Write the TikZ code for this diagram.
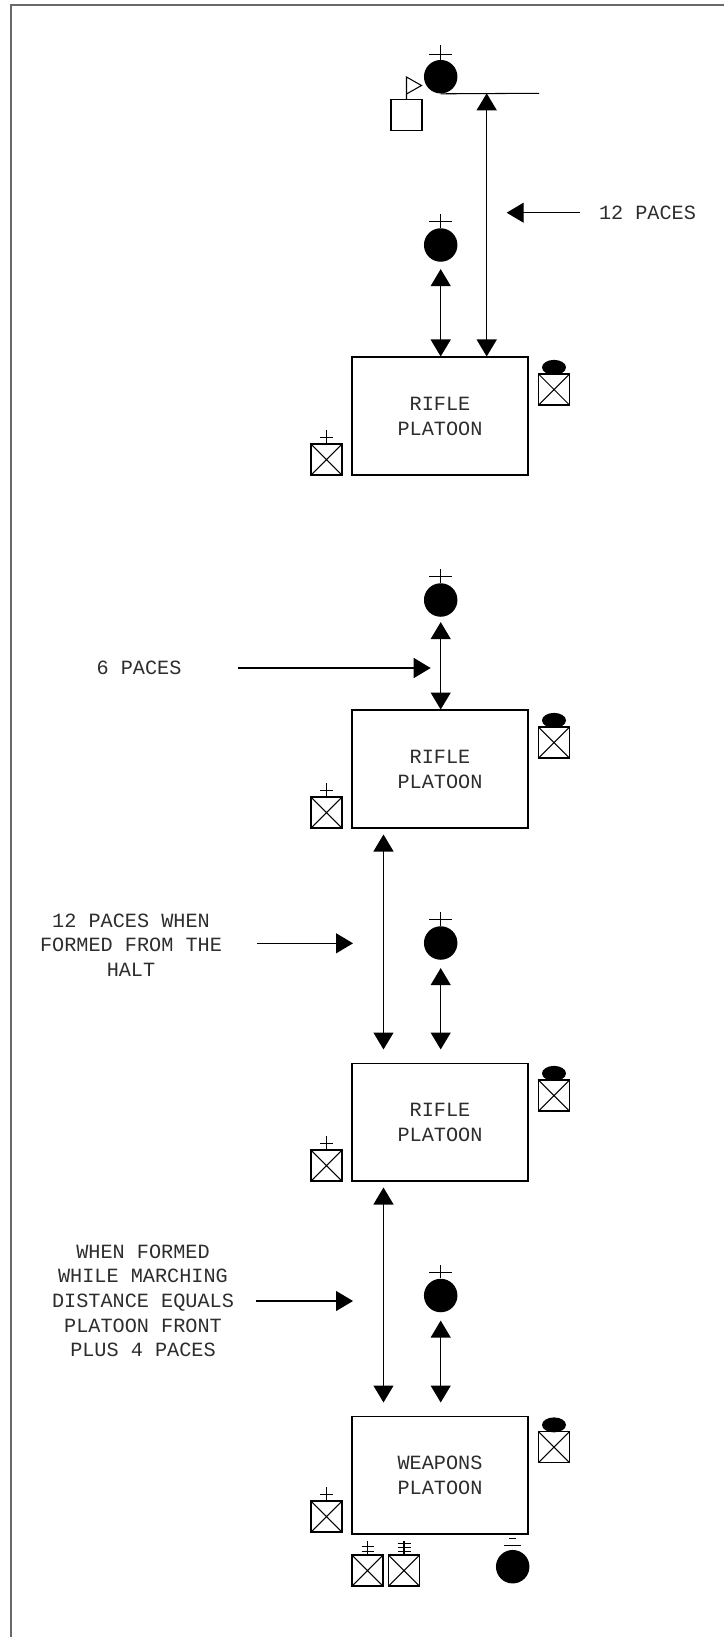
\documentclass[tikz,border=0pt]{standalone}
\usepackage{fontspec}
\setmonofont{Liberation Mono}
\usetikzlibrary{shapes.geometric,arrows.meta,positioning,calc}
\definecolor{inkclr}{RGB}{0,0,0}
\definecolor{txtclr}{RGB}{45,45,45}
\definecolor{frameclr}{RGB}{105,105,105}
\tikzset{
  %% platoon block
  plt/.style={rectangle,draw=inkclr,line width=0.6pt,
    minimum width=3.52cm,minimum height=2.36cm,inner sep=0pt,
    font=\ttfamily\fontsize{11.5}{14.2}\selectfont,align=center,text=txtclr},
  %% leader (filled circle)
  ldr/.style={circle,fill=inkclr,minimum size=0.67cm,inner sep=0pt},
  %% crossed square (vehicle / element)
  xbox/.style={rectangle,draw=inkclr,line width=0.6pt,minimum size=0.62cm,inner sep=0pt,
    path picture={\draw[line width=0.6pt]
      (path picture bounding box.north west)--(path picture bounding box.south east)
      (path picture bounding box.north east)--(path picture bounding box.south west);}},
  %% plain square (guidon bearer)
  pbox/.style={rectangle,draw=inkclr,line width=0.6pt,minimum size=0.62cm,inner sep=0pt},
  %% oval on top of crossed square
  ovl/.style={ellipse,fill=inkclr,minimum width=0.48cm,minimum height=0.3cm,inner sep=0pt},
  %% arrows
  arr/.style={-{Triangle[width=0.4cm,length=0.34cm]},line width=0.7pt,color=inkclr},
  darr/.style={{Triangle[width=0.4cm,length=0.34cm]}-{Triangle[width=0.4cm,length=0.34cm]},
    line width=0.7pt,color=inkclr},
  tick/.style={line width=0.6pt,color=inkclr},
  lbl/.style={font=\ttfamily\fontsize{11.5}{14}\selectfont,text=txtclr,align=center,inner sep=0pt},
}
%% rank mark above a node: #1 node, #2 bar width
\newcommand{\rankmk}[2]{%
  \draw[tick] (#1.north) -- ++(0,-13.5);
  \draw[tick] ($(#1.north)+(-#2/2,-6)$) -- ++(#2,0);}

\begin{document}
\begin{tikzpicture}[x=0.02cm,y=-0.02cm]
  \useasboundingbox (0,0) rectangle (724,1637);

  %% frame
  \draw[frameclr,line width=1.1pt] (11,1637) -- (11,5) -- (724,5);

  %% Head: commander, guidon, 12 paces
  \node[ldr] (co) at (440.7,76.7) {};
  \draw[tick] (co.north) -- ++(0,-15);
  \draw[tick] ($(co.north)+(-11.5,-5.5)$) -- ++(23,0);
  \coordinate (bar) at (539,93.3);
  \draw[tick] (co.south) -- (bar);
  \node[pbox] (gd) at (406.5,115) {};
  \coordinate (pole) at (406.5,77);
  \draw[tick] (gd.north) -- (pole) -- ++(15,8.5) -- ++(-15,8.5);
  \coordinate (hd) at (486.7,93.3);

  %% Group 1
  \node[plt] (p1) at (440,416) {RIFLE\\PLATOON};
  \node[xbox] (v1) at (554,389.5) {};
  \node[ovl,above=-1pt of v1] (o1) {};
  \node[xbox] (s1) at (326.5,459.5) {};
  \rankmk{s1}{13}
  \node[ldr] (l1) at (440.7,245) {};
  \rankmk{l1}{23}
  \draw[darr] (hd) -- (hd |- p1.north);
  \draw[darr,shorten <=0.14cm] (l1.south) -- (l1.south |- p1.north);

  \node[lbl] (t1) at (647.5,212.7) {12 PACES};
  \coordinate (c1) at (506.7,212.7);
  \draw[arr,shorten <=0.38cm] (t1.west) -- (c1);

  %% Group 2
  \node[plt] (p2) at (440,769) {RIFLE\\PLATOON};
  \node[xbox] (v2) at (554,742.5) {};
  \node[ovl,above=-1pt of v2] (o2) {};
  \node[xbox] (s2) at (326.5,812.5) {};
  \rankmk{s2}{13}
  \node[ldr] (l2) at (440.7,600) {};
  \rankmk{l2}{23}
  \draw[darr,shorten <=0.1cm] (l2.south) -- (l2.south |- p2.north);

  \node[lbl] (t2) at (139,668) {6 PACES};
  \coordinate (c2) at (430.7,668);
  \draw[arr,shorten <=1.12cm] (t2.east) -- (c2);

  %% Group 3
  \node[plt] (p3) at (440,1122) {RIFLE\\PLATOON};
  \node[xbox] (v3) at (554,1095.5) {};
  \node[ovl,above=-1pt of v3] (o3) {};
  \node[xbox] (s3) at (326.5,1165.5) {};
  \rankmk{s3}{13}
  \node[ldr] (l3) at (440.7,943) {};
  \rankmk{l3}{23}
  \draw[darr,shorten <=0.16cm,shorten >=0.26cm] (l3.south) -- (l3.south |- p3.north);
  \draw[darr,shorten <=0.12cm,shorten >=0.26cm]
    ($(p2.south west)+(32,0)$) -- ($(p3.north west)+(32,0)$);

  \node[lbl] (t3) at (131,945) {12 PACES WHEN\\FORMED FROM THE\\HALT};
  \coordinate (c3) at (353,943.3);
  \draw[arr,shorten <=0.7cm] (t3.east |- c3) -- (c3);

  %% Group 4
  \node[plt] (p4) at (440,1475) {WEAPONS\\PLATOON};
  \node[xbox] (v4) at (554,1447) {};
  \node[ovl,above=-1pt of v4] (o4) {};
  \node[xbox] (s4) at (326.5,1516.5) {};
  \rankmk{s4}{13}
  \node[ldr] (l4) at (440.7,1295.5) {};
  \rankmk{l4}{23}
  \draw[darr,shorten <=0.16cm,shorten >=0.26cm] (l4.south) -- (l4.south |- p4.north);
  \draw[darr,shorten <=0.12cm,shorten >=0.26cm]
    ($(p3.south west)+(32,0)$) -- ($(p4.north west)+(32,0)$);

  \node[lbl] (t4) at (143,1300.8) {WHEN FORMED\\WHILE MARCHING\\DISTANCE EQUALS\\PLATOON FRONT\\PLUS 4 PACES};
  \coordinate (c4) at (353,1301);
  \draw[arr,shorten <=0.44cm] (t4.east |- c4) -- (c4);

  %% weapons platoon extras
  \node[xbox] (m1) at (367.5,1570.5) {};
  \draw[tick] (m1.north) -- ++(0,-13);
  \foreach \d in {8.3,2.6} \draw[tick] ($(m1.north)+(-6,-\d)$) -- ++(12,0);
  \node[xbox] (m2) at (404,1570.5) {};
  \draw[tick] (m2.north) -- ++(0,-13.5);
  \foreach \d in {11,6.8,2.6} \draw[tick] ($(m2.north)+(-6.5,-\d)$) -- ++(13,0);
  \node[ldr] (sg) at (512.7,1566.7) {};
  \draw[tick] ($(sg.north)+(-8.3,-4.3)$) -- ++(16.7,0);
  \draw[tick] ($(sg.north)+(-3.4,-10.7)$) -- ++(6.8,0);

\end{tikzpicture}
\end{document}
